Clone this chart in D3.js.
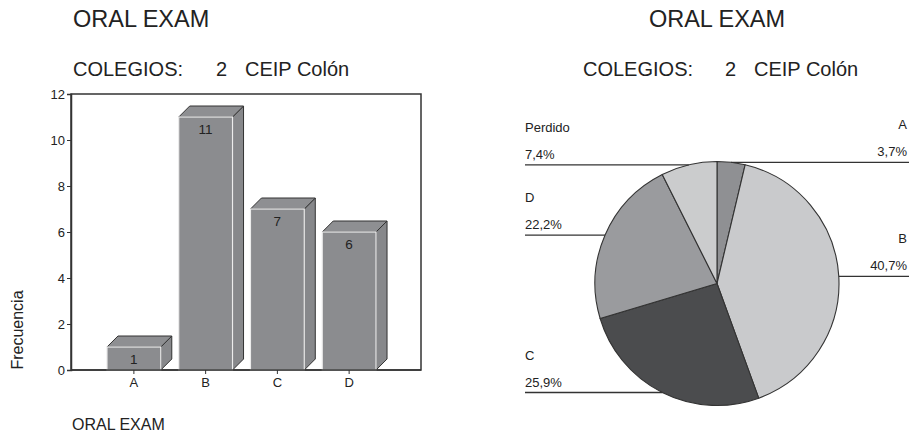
<!DOCTYPE html>
<html>
<head>
<meta charset="utf-8">
<script src="https://cdn.jsdelivr.net/npm/d3@7"></script>
<style>
  html, body { margin: 0; padding: 0; background: #fff; }
  svg { display: block; font-family: "Liberation Sans", Arial, Helvetica, sans-serif; }
</style>
</head>
<body>
<svg id="chart" width="911" height="433"></svg>
<script>
// Oral exam results for school 2 (CEIP Colón)
const titleText = "ORAL EXAM";
const schoolLabel = "COLEGIOS:";
const schoolCode = "2";
const schoolName = "CEIP Colón";

// Bar chart: frequency per grade
const barCategories = ["A", "B", "C", "D"];
const barValues = [1, 11, 7, 6];
const yTicks = [0, 2, 4, 6, 8, 10, 12];

// Pie chart: share per grade, including missing answers
const pieCategories = ["A", "B", "C", "D", "Perdido"];
const pieValues = [1, 11, 7, 6, 2];
const pieColors = ["#8f9093", "#c9cacc", "#4b4c4e", "#9a9b9e", "#cbcccd"];

const svg = d3.select("#chart");
const ink = "#222";
const lineInk = "#333";

// ---------- Headings ----------
function headings(g, titleX, titleAnchor, labelX, codeX, nameX) {
  g.append("text").attr("x", titleX).attr("y", 27)
    .attr("text-anchor", titleAnchor)
    .attr("font-size", 23.5).attr("fill", ink).text(titleText);
  g.append("text").attr("x", labelX).attr("y", 76)
    .attr("font-size", 20).attr("fill", ink).text(schoolLabel);
  g.append("text").attr("x", codeX).attr("y", 76)
    .attr("font-size", 20).attr("fill", ink).text(schoolCode);
  g.append("text").attr("x", nameX).attr("y", 76)
    .attr("font-size", 20).attr("fill", ink).text(schoolName);
}
headings(svg.append("g"), 73, "start", 73, 216, 245);
headings(svg.append("g"), 717, "middle", 583, 725, 754);

// ---------- Bar chart ----------
const plot = { left: 71, right: 421, top: 94, bottom: 370 };
const y = d3.scaleLinear().domain([0, 12]).range([plot.bottom, plot.top]);
const x = d3.scaleBand().domain(barCategories)
  .range([98, 385]).paddingInner(0.25).paddingOuter(0.125);
const depth = 11;

const bars = svg.append("g");

// frame
bars.append("rect")
  .attr("x", plot.left).attr("y", plot.top)
  .attr("width", plot.right - plot.left).attr("height", plot.bottom - plot.top)
  .attr("fill", "none").attr("stroke", lineInk).attr("stroke-width", 1.5);

const barData = barCategories.map((c, i) => ({ cat: c, value: barValues[i] }));
const barG = bars.selectAll("g.bar").data(barData).join("g").attr("class", "bar");

// side face
barG.append("path")
  .attr("d", d => {
    const x1 = x(d.cat) + x.bandwidth(), yt = y(d.value), yb = y(0);
    return `M${x1},${yt} L${x1 + depth},${yt - depth} L${x1 + depth},${yb - depth} L${x1},${yb} Z`;
  })
  .attr("fill", "#87888b").attr("stroke", lineInk).attr("stroke-width", 1)
  .attr("stroke-linejoin", "round");

// top face
barG.append("path")
  .attr("d", d => {
    const x0 = x(d.cat), x1 = x0 + x.bandwidth(), yt = y(d.value);
    return `M${x0},${yt} L${x0 + depth},${yt - depth} L${x1 + depth},${yt - depth} L${x1},${yt} Z`;
  })
  .attr("fill", "#8e8f92").attr("stroke", lineInk).attr("stroke-width", 1)
  .attr("stroke-linejoin", "round");

// front face
barG.append("rect")
  .attr("x", d => x(d.cat))
  .attr("y", d => y(d.value))
  .attr("width", x.bandwidth())
  .attr("height", d => y(0) - y(d.value))
  .attr("fill", "#8b8c8f").attr("stroke", "#ececec").attr("stroke-width", 1.2);

// value labels
barG.append("text")
  .attr("x", d => x(d.cat) + x.bandwidth() / 2)
  .attr("y", d => y(d.value) + 17)
  .attr("text-anchor", "middle").attr("font-size", 13.5).attr("fill", ink)
  .text(d => d.value);

// baseline over the bars' bottoms
bars.append("line")
  .attr("x1", plot.left).attr("x2", plot.right)
  .attr("y1", plot.bottom).attr("y2", plot.bottom)
  .attr("stroke", lineInk).attr("stroke-width", 1.5);

// y axis
const yAxis = bars.append("g").attr("transform", `translate(${plot.left},0)`)
  .call(d3.axisLeft(y).tickValues(yTicks).tickSize(4).tickPadding(2));
yAxis.select(".domain").attr("stroke", lineInk).attr("stroke-width", 1.5);
yAxis.selectAll(".tick line").attr("stroke", lineInk);
yAxis.selectAll(".tick text").attr("font-size", 13).attr("fill", ink)
  .attr("font-family", "Liberation Sans, Arial, sans-serif");

// x axis
const xAxis = bars.append("g").attr("transform", `translate(0,${plot.bottom})`)
  .call(d3.axisBottom(x).tickSize(4).tickPadding(4));
xAxis.select(".domain").remove();
xAxis.selectAll(".tick line").attr("stroke", lineInk);
xAxis.selectAll(".tick text").attr("font-size", 13).attr("fill", ink)
  .attr("font-family", "Liberation Sans, Arial, sans-serif");

// axis titles
bars.append("text")
  .attr("transform", "translate(23,330) rotate(-90)")
  .attr("text-anchor", "middle").attr("font-size", 16).attr("fill", ink)
  .text("Frecuencia");
bars.append("text").attr("x", 72).attr("y", 430)
  .attr("font-size", 16).attr("fill", ink).text(titleText);

// ---------- Pie chart ----------
const cx = 717, cy = 283.5, r = 122;
const total = d3.sum(pieValues);
const pieData = pieCategories.map((c, i) => ({ cat: c, value: pieValues[i], color: pieColors[i] }));
const arcs = d3.pie().sort(null).value(d => d.value)(pieData);
const arc = d3.arc().innerRadius(0).outerRadius(r);

const pieG = svg.append("g").attr("transform", `translate(${cx},${cy})`);
pieG.selectAll("path").data(arcs).join("path")
  .attr("d", arc)
  .attr("fill", d => d.data.color)
  .attr("stroke", lineInk).attr("stroke-width", 1.1)
  .attr("stroke-linejoin", "round");

const fmt = v => (v / total * 100).toFixed(1).replace(".", ",") + "%";
const leftX = 525, rightX = 909;

const labelG = svg.append("g");
arcs.forEach(a => {
  const mid = (a.startAngle + a.endAngle) / 2;
  const px = cx + r * Math.sin(mid);
  const py = cy - r * Math.cos(mid);
  const onLeft = mid > Math.PI;
  labelG.append("line")
    .attr("x1", onLeft ? leftX : px).attr("x2", onLeft ? px : rightX)
    .attr("y1", py).attr("y2", py)
    .attr("stroke", lineInk).attr("stroke-width", 1.3);
  const tx = onLeft ? leftX : rightX - 2;
  const anchor = onLeft ? "start" : "end";
  labelG.append("text").attr("x", tx).attr("y", py - 33)
    .attr("text-anchor", anchor).attr("font-size", 13).attr("fill", ink)
    .text(a.data.cat);
  labelG.append("text").attr("x", tx).attr("y", py - 6)
    .attr("text-anchor", anchor).attr("font-size", 13).attr("fill", ink)
    .text(fmt(a.data.value));
});
</script>
</body>
</html>
